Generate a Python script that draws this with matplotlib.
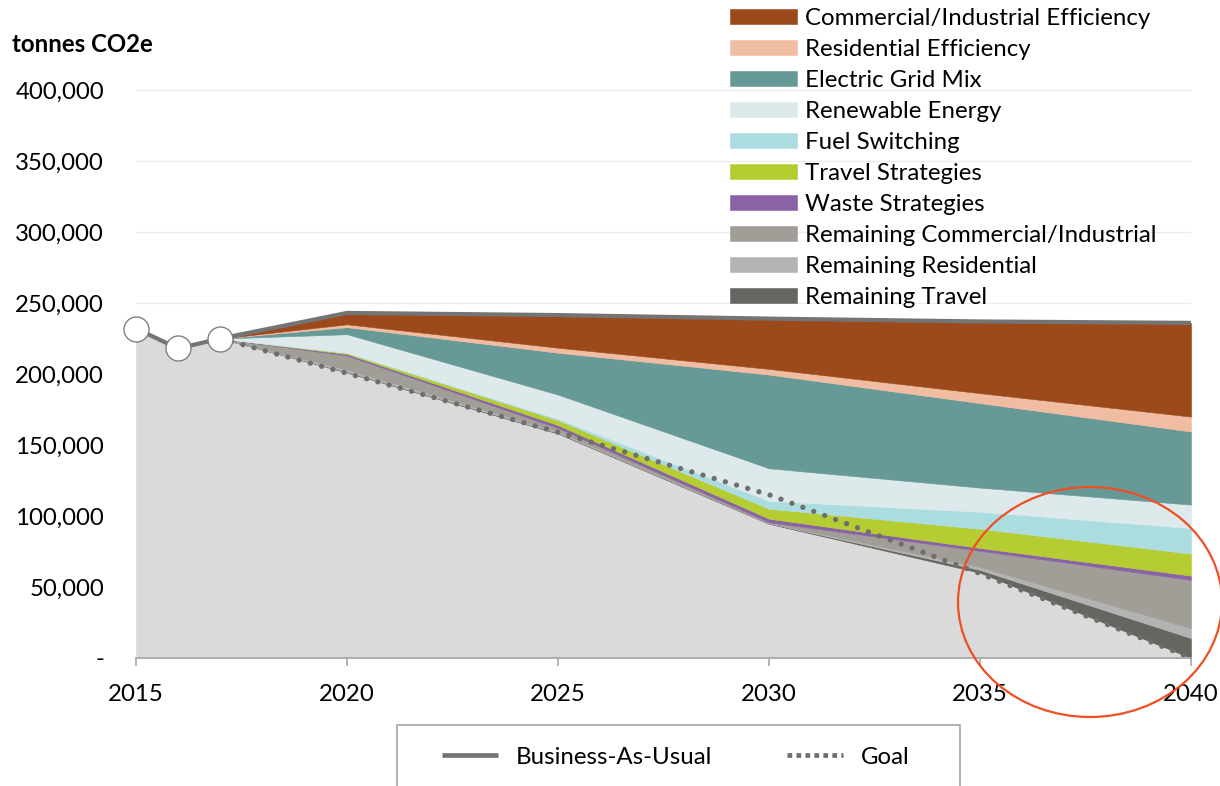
import matplotlib
matplotlib.use("Agg")
import matplotlib.pyplot as plt
from matplotlib.patches import Ellipse, Rectangle
from matplotlib.lines import Line2D
from matplotlib.ticker import FuncFormatter
import numpy as np

plt.rcParams['font.family'] = ['Lato', 'DejaVu Sans']

# ---- data ----
years = [2015, 2016, 2017, 2020, 2025, 2030, 2035, 2040]

# stacked layers, bottom to top
base_emissions = [232000, 218000, 225000, 201000, 158000, 94500, 60000, 0]
remaining_travel = [0, 0, 0, 500, 500, 300, 2000, 14000]
remaining_residential = [0, 0, 0, 1500, 1000, 300, 2000, 7000]
remaining_commercial = [0, 0, 0, 10000, 2500, 500, 11500, 34000]
waste_strategies = [0, 0, 0, 1000, 2000, 2500, 2000, 3000]
travel_strategies = [0, 0, 0, 800, 3500, 7000, 13500, 15500]
fuel_switching = [0, 0, 0, 200, 1000, 5500, 12000, 18000]
renewable_energy = [0, 0, 0, 13000, 17000, 23000, 17000, 16500]
electric_grid_mix = [0, 0, 0, 5000, 29500, 66000, 59500, 51500]
residential_efficiency = [0, 0, 0, 2000, 3500, 4000, 7000, 10500]
commercial_efficiency = [0, 0, 0, 8000, 23000, 35500, 50500, 66000]

business_as_usual = [232000, 218000, 225000, 243000, 241500, 239000, 237000, 236000]

goal_years = [2017, 2020, 2025, 2030, 2035, 2040]
goal = [225000, 200500, 159000, 115000, 59500, 0]

layer_labels = [None, "Remaining Travel", "Remaining Residential",
                "Remaining Commercial/Industrial", "Waste Strategies",
                "Travel Strategies", "Fuel Switching", "Renewable Energy",
                "Electric Grid Mix", "Residential Efficiency",
                "Commercial/Industrial Efficiency"]
layers = [base_emissions, remaining_travel, remaining_residential,
          remaining_commercial, waste_strategies, travel_strategies,
          fuel_switching, renewable_energy, electric_grid_mix,
          residential_efficiency, commercial_efficiency]
layer_colors = ["#dadada", "#66655f", "#b3b3b3", "#a19d97", "#8b62a6",
                "#b5cd33", "#abdde0", "#dde9ea", "#679997", "#f0bda3",
                "#9c4a1b"]

x_ticks = [2015, 2020, 2025, 2030, 2035, 2040]
y_ticks = [0, 50000, 100000, 150000, 200000, 250000, 300000, 350000, 400000]

FS = 17.3

# ---- figure ----
W, H = 1220, 786
fig = plt.figure(figsize=(W / 100, H / 100), dpi=100)
ax = fig.add_axes([136 / W, 1 - 658 / H, (1191 - 136) / W, (658 - 90) / H])

x = np.array(years, dtype=float)
lower = np.zeros(len(years))
handles = {}
for vals, lab, col in zip(layers, layer_labels, layer_colors):
    upper = lower + np.array(vals, dtype=float)
    poly = ax.fill_between(x, lower, upper, facecolor=col, edgecolor=col,
                           linewidth=0.4, zorder=2)
    if lab:
        handles[lab] = poly
    lower = upper

# business-as-usual line with historical markers
ax.plot(years, business_as_usual, color="#747474", lw=3.0, zorder=5,
        solid_capstyle="butt", marker="o", markevery=[0, 1, 2],
        markersize=18, markerfacecolor="white", markeredgecolor="#808080",
        markeredgewidth=1.0, clip_on=False)

# goal line (round dots)
ax.plot(goal_years, goal, color="#6e6e6e", lw=3.8, zorder=4,
        dashes=(0.01, 2.2), dash_capstyle="round")

# axes styling
ax.set_xlim(2015, 2040)
ax.set_ylim(0, 400000)
ax.set_xticks(x_ticks)
ax.set_yticks(y_ticks)
ax.yaxis.set_major_formatter(FuncFormatter(lambda v, p: "-" if v == 0 else f"{int(v):,}"))
for s in ["top", "right", "left"]:
    ax.spines[s].set_visible(False)
ax.spines["bottom"].set_color("#a6a6a6")
ax.spines["bottom"].set_linewidth(1.2)
ax.spines["bottom"].set_zorder(6)
ax.tick_params(axis="x", direction="out", length=6, width=1.2, color="#a6a6a6",
               labelsize=FS, pad=12.5, labelcolor="black")
ax.tick_params(axis="y", length=0, labelsize=FS, pad=23, labelcolor="black")
ax.grid(axis="y", color="#ececec", lw=1.0, zorder=0)
ax.set_axisbelow(True)
ax.set_facecolor("none")

fig.text(12 / W, 1 - 45 / H, "tonnes CO2e", fontsize=FS, fontweight="bold",
         va="center", ha="left")

# series legend, top to bottom
order = ["Commercial/Industrial Efficiency", "Residential Efficiency",
         "Electric Grid Mix", "Renewable Energy", "Fuel Switching",
         "Travel Strategies", "Waste Strategies",
         "Remaining Commercial/Industrial", "Remaining Residential",
         "Remaining Travel"]
fig.legend([handles[k] for k in order], order, loc="upper left",
           bbox_to_anchor=(730 / W, 1 - 8 / H), frameon=False, fontsize=FS,
           borderpad=0, borderaxespad=0, handlelength=2.8, handleheight=0.58,
           handletextpad=0.33, labelspacing=0.415)

# line legend inside a bordered box at the bottom
fig.add_artist(Rectangle((397 / W, 1 - 810 / H), (960 - 397) / W, 85 / H,
                         transform=fig.transFigure, facecolor="white",
                         edgecolor="#a6a6a6", lw=1.2, zorder=1))
bau_handle = Line2D([], [], color="#747474", lw=3.4, solid_capstyle="butt")
goal_handle = Line2D([], [], color="#6e6e6e", lw=3.4, dashes=(1.0, 0.9),
                     dash_capstyle="butt")
leg2 = fig.legend([bau_handle, goal_handle], ["Business-As-Usual", "Goal"],
                  loc="center left", bbox_to_anchor=(442 / W, 1 - 757 / H),
                  ncol=2, frameon=False, fontsize=FS, handlelength=2.35,
                  handletextpad=0.72, columnspacing=3.1, borderpad=0,
                  borderaxespad=0)
leg2.set_zorder(2)

# highlight around the final years
fig.add_artist(Ellipse((1090 / W, 1 - 602 / H), 264 / W, 230 / H,
                       transform=fig.transFigure, fill=False,
                       edgecolor="#f04e23", lw=1.6, zorder=7))

fig.savefig("out.png", dpi=100)
